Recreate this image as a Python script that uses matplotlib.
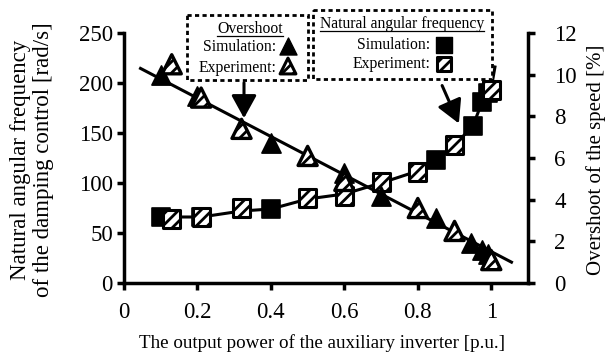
import matplotlib
matplotlib.use("Agg")
import matplotlib.pyplot as plt
from matplotlib.patches import Rectangle, FancyArrowPatch

# =========================================================
# DATA
# =========================================================

# natural angular frequency [rad/s] (left axis)
naf_sim_x = [0.10, 0.21, 0.40, 0.85, 0.95, 0.975, 0.99]
naf_sim_y = [66, 66, 74, 123, 157, 181, 190]

naf_exp_x = [0.13, 0.21, 0.32, 0.50, 0.60, 0.70, 0.80, 0.90, 1.00]
naf_exp_y = [64, 66, 75, 85, 87, 101, 111, 138, 193]

naf_curve_x = [0.09, 0.21, 0.32, 0.40, 0.50, 0.60, 0.70, 0.80, 0.85, 0.90, 0.95, 0.975, 1.00, 1.01]
naf_curve_y = [66, 66, 72, 74, 84, 89, 100, 112, 123, 138, 157, 181, 195, 216]

# overshoot of the speed [%] (right axis)
ov_sim_x = [0.10, 0.20, 0.40, 0.60, 0.70, 0.85, 0.945, 0.975, 0.99]
ov_sim_y = [10.0, 9.0, 6.7, 5.3, 4.2, 3.1, 1.9, 1.6, 1.4]

ov_exp_x = [0.13, 0.21, 0.32, 0.50, 0.60, 0.80, 0.90, 1.00]
ov_exp_y = [10.5, 8.9, 7.4, 6.1, 4.9, 3.6, 2.5, 1.1]

ov_line_x = [0.045, 1.055]
ov_line_y = [10.3, 1.0]

x_ticks = [0, 0.2, 0.4, 0.6, 0.8, 1]
x_tick_labels = ["0", "0.2", "0.4", "0.6", "0.8", "1"]
left_ticks = [0, 50, 100, 150, 200, 250]
right_ticks = [0, 2, 4, 6, 8, 10, 12]

# =========================================================
# STYLE
# =========================================================

plt.rcParams["font.family"] = ["Liberation Serif", "DejaVu Serif"]
plt.rcParams["hatch.linewidth"] = 2.0

W, H = 613, 360
fig = plt.figure(figsize=(W / 100, H / 100), dpi=100)


def fx(px):
    return px / W


def fy(py):
    return 1 - py / H


ax = fig.add_axes([fx(124), fy(283), fx(528) - fx(124), fy(33) - fy(283)])
ax2 = ax.twinx()

# =========================================================
# LINES + MARKERS
# =========================================================

ax.plot(naf_curve_x, naf_curve_y, color="black", lw=2.2, zorder=2)
ax.scatter(naf_sim_x, naf_sim_y, marker="s", s=150, c="black",
           edgecolors="black", linewidths=1.2, zorder=3)
ax.scatter(naf_exp_x, naf_exp_y, marker="s", s=150, facecolors="white",
           edgecolors="black", hatch="///", linewidths=2.2, zorder=4)

ax2.plot(ov_line_x, ov_line_y, color="black", lw=2.2, zorder=2)
ax2.scatter(ov_sim_x, ov_sim_y, marker="^", s=190, c="black",
            edgecolors="black", linewidths=1.2, zorder=3)
ax2.scatter(ov_exp_x, ov_exp_y, marker="^", s=190, facecolors="white",
            edgecolors="black", hatch="///", linewidths=2.4, zorder=4)

# =========================================================
# AXES
# =========================================================

ax.set_xlim(0, 1.1)
ax.set_ylim(0, 250)
ax2.set_ylim(0, 12)

ax.set_xticks(x_ticks)
ax.set_xticklabels(x_tick_labels)
ax.set_yticks(left_ticks)
ax2.set_yticks(right_ticks)

for a in (ax, ax2):
    a.spines["top"].set_visible(False)
    for s in ("left", "right", "bottom"):
        a.spines[s].set_linewidth(2.5)

ax.spines["right"].set_visible(False)
ax2.spines["left"].set_visible(False)
ax2.spines["bottom"].set_visible(False)

ax.tick_params(axis="x", direction="out", length=5, width=2.5,
               labelsize=16.5, pad=9)
ax.tick_params(axis="y", direction="out", length=5, width=2.5,
               labelsize=16.5, pad=3)
ax2.tick_params(axis="y", direction="out", length=5, width=2.5,
                labelsize=16.5, pad=14)

fig.text(fx(322), fy(343), "The output power of the auxiliary inverter [p.u.]",
         ha="center", va="center", fontsize=13.7)
fig.text(fx(32), fy(160),
         "Natural angular frequency\nof the damping control [rad/s]",
         ha="center", va="center", rotation=90, fontsize=16.5,
         linespacing=1.1)
fig.text(fx(596), fy(160), "Overshoot of the speed [%]",
         ha="center", va="center", rotation=90, fontsize=15)

# =========================================================
# ANNOTATION BOXES (overlay in pixel coords, y down)
# =========================================================

ov = fig.add_axes([0, 0, 1, 1], zorder=10)
ov.set_xlim(0, W)
ov.set_ylim(H, 0)
ov.axis("off")
ov.patch.set_alpha(0)

box_ls = (0, (1.5, 1.2))

ov.add_patch(Rectangle((187, 15), 121, 65, facecolor="white",
                       edgecolor="black", lw=2, linestyle=box_ls))
ov.add_patch(Rectangle((313, 10), 179, 69, facecolor="white",
                       edgecolor="black", lw=2, linestyle=box_ls))

leg_fs = 11.3

t1 = ov.text(250, 29, "Overshoot", ha="center", va="center", fontsize=leg_fs)
ov.text(276, 47, "Simulation:", ha="right", va="center", fontsize=leg_fs)
ov.text(276, 68, "Experiment:", ha="right", va="center", fontsize=leg_fs)

t2 = ov.text(402, 24, "Natural angular frequency", ha="center", va="center",
             fontsize=leg_fs)
ov.text(430, 45, "Simulation:", ha="right", va="center", fontsize=leg_fs)
ov.text(430, 64, "Experiment:", ha="right", va="center", fontsize=leg_fs)

# legend markers
ov.scatter([288], [46], marker="^", s=150, c="black", zorder=3)
ov.scatter([288], [66], marker="^", s=130, facecolors="white",
           edgecolors="black", hatch="///", linewidths=2.2, zorder=3)
ov.scatter([444], [45], marker="s", s=120, c="black", zorder=3)
ov.scatter([444], [64], marker="s", s=110, facecolors="white",
           edgecolors="black", hatch="///", linewidths=2.2, zorder=3)

# underline titles
fig.canvas.draw()
inv = ov.transData.inverted()
for t in (t1, t2):
    bb = t.get_window_extent()
    (x0, y0), (x1, _) = inv.transform([[bb.x0, bb.y0], [bb.x1, bb.y0]])
    ov.plot([x0, x1], [y0 - 1.5, y0 - 1.5], color="black", lw=0.9)

# arrows
ov.add_patch(FancyArrowPatch(
    (244, 80), (244, 121),
    arrowstyle="-|>,head_length=1.0,head_width=0.55", mutation_scale=14,
    color="black", lw=2.2))
ov.add_patch(FancyArrowPatch(
    (441, 83), (460, 126),
    arrowstyle="-|>,head_length=1.0,head_width=0.55", mutation_scale=14,
    color="black", lw=2.2))

fig.savefig("out.png", dpi=100)
